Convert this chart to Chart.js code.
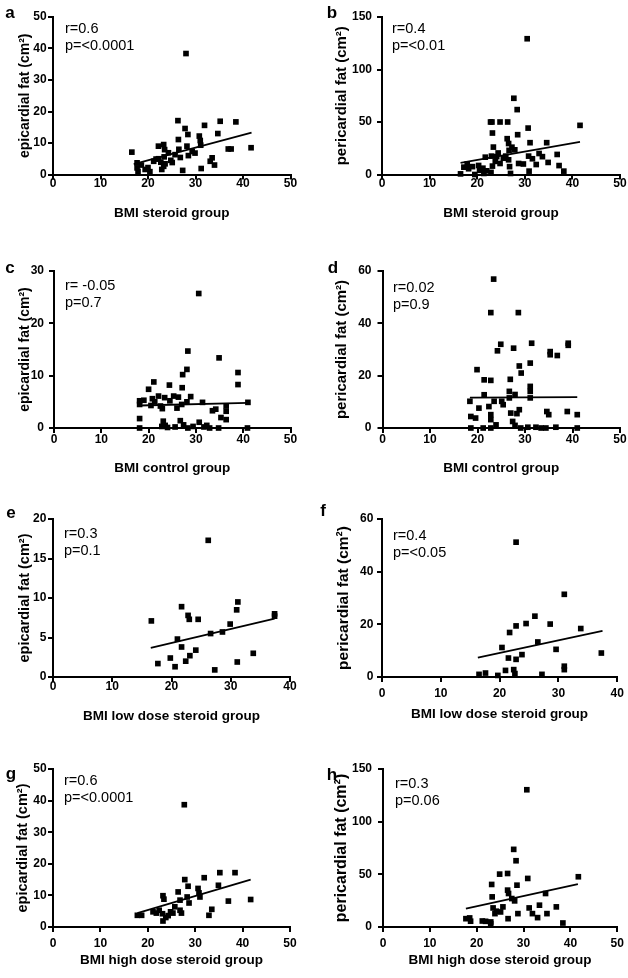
<!DOCTYPE html>
<html>
<head>
<meta charset="utf-8">
<script src="https://cdn.jsdelivr.net/npm/chart.js@4.4.1/dist/chart.umd.min.js"></script>
<style>
  body { margin: 0; background: #fff; }
  #fig { position: relative; width: 628px; height: 978px; font-family: 'Liberation Sans', Arial, sans-serif; color: #000; overflow: hidden; }
  #fig canvas { position: absolute; }
  .letter { position: absolute; font-weight: bold; font-size: 17px; line-height: 17px; transform: translate(-50%, -50%); }
  .stat { position: absolute; font-size: 14.5px; line-height: 17px; white-space: pre; }
</style>
</head>
<body>
<div id="fig"></div>
<script>
// --- data: BMI (x) and fat area (y) ---
const aBmi = [16.6, 17.7, 17.7, 17.9, 18.6, 19.4, 20.0, 20.4, 21.2, 21.7, 22.2, 22.2, 22.9, 23.3, 23.5, 23.4, 23.6, 23.3, 24.3, 24.8, 25.7, 26.3, 26.4, 26.5, 26.8, 27.3, 27.8, 28.0, 28.2, 28.4, 28.5, 29.3, 29.9, 30.8, 31.0, 31.1, 31.2, 31.9, 33.1, 33.5, 34.0, 34.7, 35.2, 36.9, 37.5, 38.5, 41.7, 25.1, 22.7];
const aFat = [7.1, 3.7, 2.1, 1.0, 3.0, 1.6, 2.2, 0.9, 4.2, 4.9, 9.0, 5.0, 1.6, 9.5, 7.9, 5.6, 3.4, 2.6, 6.9, 4.5, 6.3, 17.1, 11.1, 8.0, 5.4, 1.3, 14.6, 38.4, 9.0, 12.7, 6.0, 7.3, 6.8, 12.2, 10.8, 9.3, 1.9, 15.6, 4.2, 5.3, 3.0, 13.0, 16.9, 8.1, 8.1, 16.7, 8.5, 3.8, 3.9];
const aFitX = [17.0, 41.8];
const aFitY = [3.3, 13.3];

const bBmi = [16.5, 17.2, 17.9, 18.2, 19.0, 19.5, 20.3, 20.5, 21.2, 21.4, 21.7, 22.0, 22.8, 23.1, 23.2, 23.4, 23.0, 23.2, 22.9, 23.8, 24.1, 24.4, 24.8, 24.8, 25.5, 26.0, 26.3, 26.4, 26.6, 26.7, 26.6, 26.8, 27.0, 27.3, 27.7, 27.9, 28.4, 28.5, 28.7, 29.7, 30.5, 30.7, 31.1, 30.8, 30.9, 31.6, 32.4, 33.0, 33.7, 34.6, 34.9, 36.8, 37.2, 38.2, 41.6];
const bFat = [0.6, 7.0, 10.0, 5.5, 7.5, 0, 8.6, 4.0, 6.0, 1.0, 16.5, 3.5, 50.0, 50.0, 39.5, 26.1, 17.5, 8.0, 2.0, 12.5, 17.0, 20.5, 50.0, 10.5, 15.5, 17.5, 34.1, 50.0, 29.5, 23.0, 14.0, 7.5, 1.0, 26.0, 72.6, 23.5, 61.8, 37.9, 10.5, 10.0, 129.3, 44.2, 30.3, 17.5, 3.2, 15.0, 9.5, 20.0, 17.0, 30.3, 11.5, 19.1, 8.5, 3.2, 46.8];
const bFitX = [16.5, 41.6];
const bFitY = [11.1, 31.0];

const cBmi = [18.1, 18.1, 18.1, 18.1, 19.0, 20.0, 20.5, 21.1, 20.8, 21.3, 22.1, 22.5, 22.8, 23.1, 23.5, 22.9, 23.4, 24.4, 24.5, 25.3, 25.6, 26.3, 26.7, 27.1, 27.2, 27.0, 28.1, 28.3, 27.4, 28.1, 28.3, 28.9, 29.4, 30.6, 30.7, 31.4, 31.7, 32.3, 32.9, 33.5, 34.2, 34.9, 34.8, 35.3, 36.4, 36.4, 36.4, 38.9, 38.9, 41.0, 40.9, 26.0, 24.0];
const cFat = [5.2, 4.5, 1.8, 0, 5.3, 7.4, 4.3, 8.8, 5.6, 5.0, 6.1, 4.2, 0.3, 1.3, 0.5, 3.7, 5.8, 8.2, 5.2, 6.1, 0.2, 5.9, 1.4, 7.7, 10.2, 4.5, 11.2, 14.7, 0.6, 5.0, 0, 6.0, 0.3, 25.7, 1.1, 4.9, 0.2, 0.5, 0, 3.3, 3.6, 13.4, 0, 2.0, 4.2, 3.2, 1.6, 10.6, 8.3, 4.9, 0, 3.8, 0.1];
const cFitX = [18.1, 41.0];
const cFitY = [4.3, 4.8];

const dBmi = [18.4, 18.6, 18.6, 19.6, 19.9, 20.3, 21.2, 21.4, 21.4, 22.4, 22.8, 22.8, 22.8, 22.8, 23.4, 23.5, 22.8, 23.9, 24.2, 24.9, 25.1, 25.4, 26.7, 26.9, 26.7, 27.0, 27.6, 27.4, 27.9, 27.9, 28.8, 28.6, 28.8, 29.2, 28.3, 29.1, 30.6, 31.1, 31.4, 31.1, 31.1, 31.1, 32.3, 33.4, 34.6, 35.0, 35.3, 35.3, 36.8, 36.5, 38.9, 39.1, 39.1, 41.0, 41.0, 34.4];
const dFat = [10.2, 4.4, 0, 3.8, 22.3, 7.6, 0, 18.4, 12.7, 8.2, 18.2, 44.1, 5.1, 3.2, 56.9, 10.2, 0, 1.2, 29.5, 32.0, 10.2, 8.9, 14.0, 18.6, 11.5, 5.7, 30.5, 2.5, 1.0, 12.8, 7.0, 44.1, 23.7, 21.0, 5.5, 0, 0.3, 24.8, 32.4, 15.9, 14.0, 11.5, 0.3, 0, 6.3, 5.1, 29.2, 28.0, 27.7, 0.3, 6.3, 32.4, 31.6, 5.1, 0, 0];
const dFitX = [18.4, 41.0];
const dFitY = [11.6, 11.8];

const eBmi = [16.6, 17.7, 19.8, 20.6, 21.0, 21.7, 21.7, 22.4, 22.8, 23.0, 23.1, 24.1, 24.5, 26.2, 26.6, 27.3, 28.6, 29.9, 31.0, 31.2, 31.1, 33.8, 37.4, 37.4];
const eFat = [7.1, 1.7, 2.4, 1.3, 4.8, 8.9, 3.8, 2.0, 7.8, 7.3, 2.7, 3.4, 7.3, 17.3, 5.5, 0.9, 5.7, 6.7, 8.5, 9.5, 1.9, 3.0, 8.0, 7.7];
const eFitX = [16.5, 37.4];
const eFitY = [3.7, 7.4];

const fBmi = [16.5, 17.6, 19.7, 20.4, 21.0, 21.5, 21.7, 22.4, 22.6, 22.8, 22.8, 22.8, 23.8, 24.5, 26.0, 26.5, 27.2, 28.6, 29.6, 31.0, 31.0, 31.0, 33.8, 37.3];
const fFat = [1.0, 1.5, 0.6, 11.2, 2.5, 7.2, 16.9, 2.8, 1.3, 19.4, 51.2, 6.7, 8.5, 20.3, 23.1, 13.3, 1.0, 20.1, 10.5, 31.4, 4.1, 2.8, 18.4, 9.1];
const fFitX = [16.3, 37.5];
const fFitY = [7.4, 17.5];

const gBmi = [17.8, 18.7, 21.1, 21.8, 22.4, 23.1, 23.2, 23.4, 23.2, 23.8, 24.3, 24.8, 25.3, 25.7, 26.4, 26.8, 26.8, 27.1, 27.8, 27.7, 28.3, 28.5, 28.7, 30.6, 30.8, 31.0, 31.9, 32.9, 33.5, 34.9, 35.2, 37.0, 38.4, 41.7];
const gFat = [3.7, 3.7, 4.8, 4.4, 5.3, 4.2, 9.9, 8.8, 1.9, 3.0, 3.6, 4.8, 4.4, 6.4, 11.1, 8.5, 5.3, 4.4, 15.0, 38.7, 9.5, 12.9, 7.6, 12.2, 10.8, 9.5, 15.6, 3.7, 5.6, 13.2, 17.2, 8.2, 17.2, 8.7];
const gFitX = [17.8, 41.7];
const gFitY = [4.4, 15.0];

const hBmi = [17.7, 18.5, 18.7, 21.2, 21.9, 23.0, 23.0, 23.2, 23.3, 23.5, 23.9, 24.2, 24.9, 25.1, 25.6, 26.6, 26.6, 26.8, 26.7, 27.5, 27.9, 28.1, 28.4, 28.6, 28.8, 30.7, 30.9, 31.2, 31.9, 33.0, 33.4, 34.7, 35.0, 37.0, 38.4, 41.7];
const hFat = [7.9, 8.6, 5.5, 5.7, 5.4, 4.8, 3.2, 40.4, 28.6, 18.1, 12.7, 15.0, 50.2, 14.3, 19.1, 50.8, 35.0, 31.8, 7.9, 27.0, 73.7, 24.8, 62.9, 39.7, 12.7, 130.3, 46.1, 18.1, 12.7, 8.9, 20.7, 31.8, 12.7, 19.1, 3.8, 47.7];
const hFitX = [17.7, 41.6];
const hFitY = [17.5, 40.7];

const epiLabel = 'epicardial fat (cm²)';
const periLabel = 'pericardial fat (cm²)';

// --- panel table: box = canvas [left, top, w, h], area = plot [left, top, right, bottom] on the page ---
const panels = [
  { id: 'a', x: aBmi, y: aFat, fx: aFitX, fy: aFitY, r: 'r=0.6', p: 'p=<0.0001', yLabel: epiLabel, xLabel: 'BMI steroid group',
    xMax: 50, yMax: 50, yStep: 10, box: [0, 0, 310, 232], area: [53, 17, 290.5, 174.5], yTitleX: 25, xTitleY: 213, yFont: 14, xPad: -3.4, yPad: 1.3, letter: [10, 12], stat: [65, 28] },
  { id: 'b', x: bBmi, y: bFat, fx: bFitX, fy: bFitY, r: 'r=0.4', p: 'p=<0.01', yLabel: periLabel, xLabel: 'BMI steroid group',
    xMax: 50, yMax: 150, yStep: 50, box: [310, 0, 318, 232], area: [382, 17, 620, 174.5], yTitleX: 341.7, xTitleY: 213, yFont: 15, xPad: -3.4, yPad: 5, letter: [332, 12], stat: [392, 28] },
  { id: 'c', x: cBmi, y: cFat, fx: cFitX, fy: cFitY, r: 'r= -0.05', p: 'p=0.7', yLabel: epiLabel, xLabel: 'BMI control group',
    xMax: 50, yMax: 30, yStep: 10, box: [0, 240, 310, 240], area: [54, 271, 290.5, 428], yTitleX: 25, xTitleY: 468, yFont: 14, xPad: -0.9, yPad: 5, letter: [10, 267], stat: [65, 285] },
  { id: 'd', x: dBmi, y: dFat, fx: dFitX, fy: dFitY, r: 'r=0.02', p: 'p=0.9', yLabel: periLabel, xLabel: 'BMI control group',
    xMax: 50, yMax: 60, yStep: 20, box: [310, 240, 318, 240], area: [382.5, 271, 620, 428], yTitleX: 341.7, xTitleY: 468, yFont: 15, xPad: -0.9, yPad: 6, letter: [333, 267], stat: [393, 287] },
  { id: 'e', x: eBmi, y: eFat, fx: eFitX, fy: eFitY, r: 'r=0.3', p: 'p=0.1', yLabel: epiLabel, xLabel: 'BMI low dose steroid group',
    xMax: 40, yMax: 20, yStep: 5, box: [0, 485, 310, 245], area: [53, 519, 290, 677], yTitleX: 25, xTitleY: 716, yFont: 14.5, xPad: -2.5, yPad: 1.7, letter: [11, 512], stat: [64, 533] },
  { id: 'f', x: fBmi, y: fFat, fx: fFitX, fy: fFitY, r: 'r=0.4', p: 'p=<0.05', yLabel: periLabel, xLabel: 'BMI low dose steroid group',
    xMax: 40, yMax: 60, yStep: 20, box: [310, 485, 318, 245], area: [382, 519, 619, 677], yTitleX: 343.3, xTitleY: 714, yFont: 15.5, xPad: 4.1, yPad: 3.7, letter: [323, 510], stat: [393, 535] },
  { id: 'g', x: gBmi, y: gFat, fx: gFitX, fy: gFitY, r: 'r=0.6', p: 'p=<0.0001', yLabel: epiLabel, xLabel: 'BMI high dose steroid group',
    xMax: 50, yMax: 50, yStep: 10, box: [0, 730, 310, 248], area: [53, 769, 290, 927], yTitleX: 23.3, xTitleY: 960, yFont: 14.5, xPad: 4.1, yPad: 1.3, letter: [11, 773], stat: [64, 780] },
  { id: 'h', x: hBmi, y: hFat, fx: hFitX, fy: hFitY, r: 'r=0.3', p: 'p=0.06', yLabel: periLabel, xLabel: 'BMI high dose steroid group',
    xMax: 50, yMax: 150, yStep: 50, box: [310, 730, 318, 248], area: [383, 769, 620, 927], yTitleX: 341.7, xTitleY: 960, yFont: 16, xPad: 4.1, yPad: 6, letter: [332, 774], stat: [395, 783] }
];

const FONT = "'Liberation Sans', Arial, sans-serif";
const X_TITLE_SIZE = 13.5;
const fig = document.getElementById('fig');

function addDiv(cls, text, left, top) {
  const d = document.createElement('div');
  d.className = cls;
  d.textContent = text;
  d.style.left = left + 'px';
  d.style.top = top + 'px';
  fig.appendChild(d);
}

function axisStyle() {
  return {
    grid: { drawOnChartArea: false, drawTicks: true, tickLength: 5, color: '#000', tickColor: '#000', lineWidth: 2, tickWidth: 2 },
    border: { display: true, color: '#000', width: 2 }
  };
}

function makePanel(p) {
  const [cx, cy, cw, ch] = p.box;
  const [al, at, ar, ab] = p.area;
  const canvas = document.createElement('canvas');
  canvas.width = cw; canvas.height = ch;
  canvas.style.left = cx + 'px'; canvas.style.top = cy + 'px';
  canvas.style.width = cw + 'px'; canvas.style.height = ch + 'px';
  fig.appendChild(canvas);

  const yAxisW = al - cx;
  const xAxisH = cy + ch - ab;
  const tickFont = { family: FONT, size: 12, weight: 'bold' };

  new Chart(canvas, {
    type: 'scatter',
    data: {
      datasets: [
        {
          data: p.x.map((v, i) => ({ x: v, y: p.y[i] })),
          pointStyle: 'rect', pointRadius: 4, pointHoverRadius: 4,
          backgroundColor: '#000', borderWidth: 0, clip: false
        },
        {
          type: 'line',
          data: p.fx.map((v, i) => ({ x: v, y: p.fy[i] })),
          borderColor: '#000', borderWidth: 1.8, pointRadius: 0, fill: false, tension: 0, clip: false
        }
      ]
    },
    options: {
      responsive: false, animation: false, events: [],
      layout: { padding: { left: 0, top: at - cy, right: cx + cw - ar, bottom: 0 } },
      plugins: { legend: { display: false }, tooltip: { enabled: false } },
      scales: {
        x: {
          type: 'linear', min: 0, max: p.xMax,
          afterFit: s => { s.height = xAxisH; },
          ticks: { stepSize: 10, color: '#000', font: tickFont, padding: p.xPad, maxRotation: 0, autoSkip: false },
          ...axisStyle(),
          title: {
            display: true, text: p.xLabel, color: '#000',
            font: { family: FONT, size: X_TITLE_SIZE, weight: 'bold' },
            padding: { top: 0, bottom: cy + ch - p.xTitleY - X_TITLE_SIZE * 0.6 }
          }
        },
        y: {
          type: 'linear', min: 0, max: p.yMax,
          afterFit: s => { s.width = yAxisW; },
          ticks: { stepSize: p.yStep, color: '#000', font: tickFont, padding: p.yPad, autoSkip: false },
          ...axisStyle(),
          title: {
            display: true, text: p.yLabel, color: '#000',
            font: { family: FONT, size: p.yFont, weight: 'bold' },
            padding: { top: p.yTitleX - cx - p.yFont * 0.6, bottom: 0 }
          }
        }
      }
    }
  });

  addDiv('letter', p.id, p.letter[0], p.letter[1]);
  addDiv('stat', p.r + '\n' + p.p, p.stat[0], p.stat[1] - 8.5);
}

panels.forEach(makePanel);
</script>
</body>
</html>
